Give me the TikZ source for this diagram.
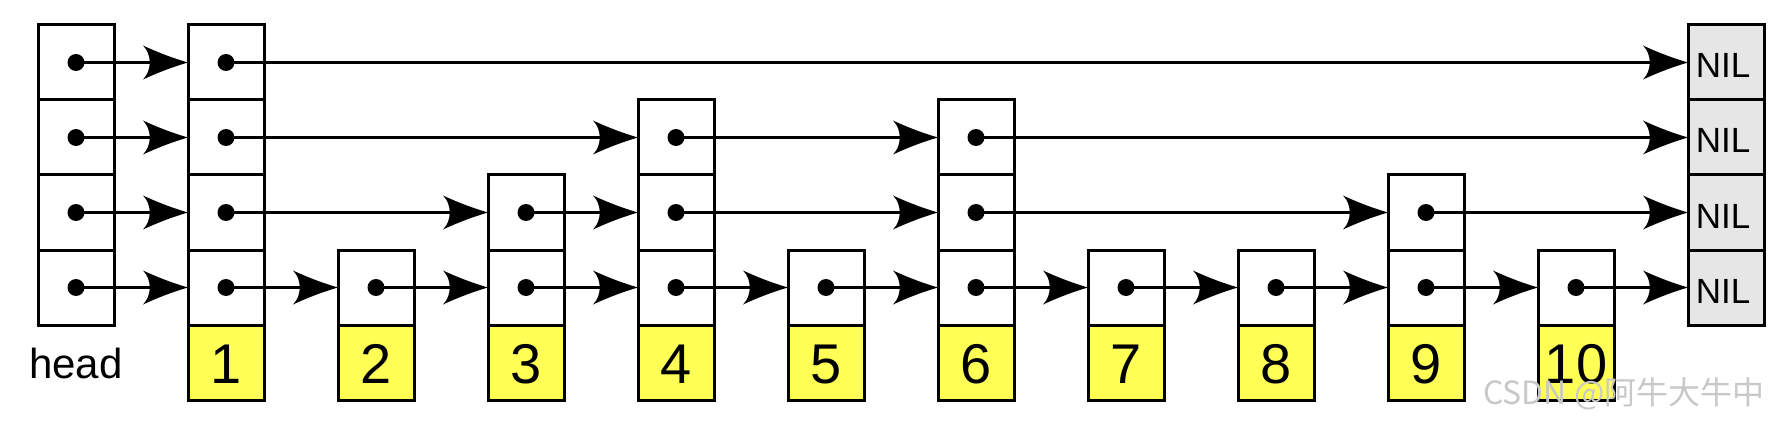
\documentclass[tikz,border=0pt]{standalone}
\usepackage{fontspec}
\setmainfont{Liberation Sans}
\newfontfamily\cjk{Noto Sans CJK SC}
\usetikzlibrary{arrows.meta}
\definecolor{keyyellow}{RGB}{255,255,85}
\definecolor{nilgray}{RGB}{230,230,230}
\definecolor{wmgray}{RGB}{200,200,200}
\pgfdeclarearrow{
  name=CurvedStealth,
  setup code={
    \pgfarrowssettipend{0pt}
    \pgfarrowssetlineend{-30pt}
    \pgfarrowssetbackend{-45pt}
    \pgfarrowshullpoint{0pt}{0pt}
    \pgfarrowshullpoint{-45pt}{17pt}
    \pgfarrowshullpoint{-45pt}{-17pt}
  },
  drawing code={
    \pgfpathmoveto{\pgfqpoint{0pt}{0pt}}
    \pgfpathcurveto{\pgfqpoint{-14pt}{4pt}}{\pgfqpoint{-30pt}{10pt}}{\pgfqpoint{-45pt}{17pt}}
    \pgfpathcurveto{\pgfqpoint{-36pt}{8pt}}{\pgfqpoint{-36pt}{-8pt}}{\pgfqpoint{-45pt}{-17pt}}
    \pgfpathcurveto{\pgfqpoint{-30pt}{-10pt}}{\pgfqpoint{-14pt}{-4pt}}{\pgfqpoint{0pt}{0pt}}
    \pgfpathclose
    \pgfusepathqfill
  },
}
\begin{document}
\begin{tikzpicture}[x=1pt,y=-1pt,
  cell/.style={draw=black,line width=3pt,minimum width=76pt,minimum height=75pt,inner sep=0pt,outer sep=0pt},
  keycell/.style={cell,fill=keyyellow},
  nilcell/.style={cell,fill=nilgray},
  dotmark/.style={fill=black},
  arr/.style={line width=3pt,-{CurvedStealth}},
  keytext/.style={anchor=base,font=\fontsize{56}{60}\selectfont},
  niltext/.style={anchor=base,font=\fontsize{35}{40}\selectfont},
  headtext/.style={anchor=base,font=\fontsize{42}{46}\selectfont},
]
\useasboundingbox (0,0) rectangle (1790,422);
% head column (column 0)
\foreach \k in {1,2,3,4}{
  \node[cell] (n0l\k) at (76,{287.5-75*(\k-1)}) {};
  \fill[dotmark] (n0l\k.center) circle (8.5pt);
}
\node[headtext] (headlbl) at (76,378) {head};
% data nodes: column / height
\foreach \i/\h in {1/4,2/1,3/2,4/3,5/1,6/3,7/1,8/1,9/2,10/1}{
  \foreach \k in {1,...,\h}{
    \node[cell] (n\i l\k) at ({76+150*\i},{287.5-75*(\k-1)}) {};
    \fill[dotmark] (n\i l\k.center) circle (8.5pt);
  }
  \node[keycell] (key\i) at ({76+150*\i},362.5) {};
  \node[keytext] (keytxt\i) at ({76+150*\i},383) {\i};
}
% NIL column (column 11)
\foreach \k in {1,2,3,4}{
  \node[nilcell] (n11l\k) at (1726,{287.5-75*(\k-1)}) {};
  \node[niltext] (niltxt\k) at (1723,{303-75*(\k-1)}) {NIL};
}
% level 4 links
\foreach \a/\b in {0/1,1/11}{ \draw[arr] (n\a l4.center) -- (n\b l4.west); }
% level 3 links
\foreach \a/\b in {0/1,1/4,4/6,6/11}{ \draw[arr] (n\a l3.center) -- (n\b l3.west); }
% level 2 links
\foreach \a/\b in {0/1,1/3,3/4,4/6,6/9,9/11}{ \draw[arr] (n\a l2.center) -- (n\b l2.west); }
% level 1 links
\foreach \a/\b in {0/1,1/2,2/3,3/4,4/5,5/6,6/7,7/8,8/9,9/10,10/11}{ \draw[arr] (n\a l1.center) -- (n\b l1.west); }
% watermark
\node[anchor=base west,text=wmgray,inner sep=0pt,font=\cjk\fontsize{32}{36}\selectfont] (wm) at (1483,404) {CSDN @阿牛大牛中};
\end{tikzpicture}
\end{document}
